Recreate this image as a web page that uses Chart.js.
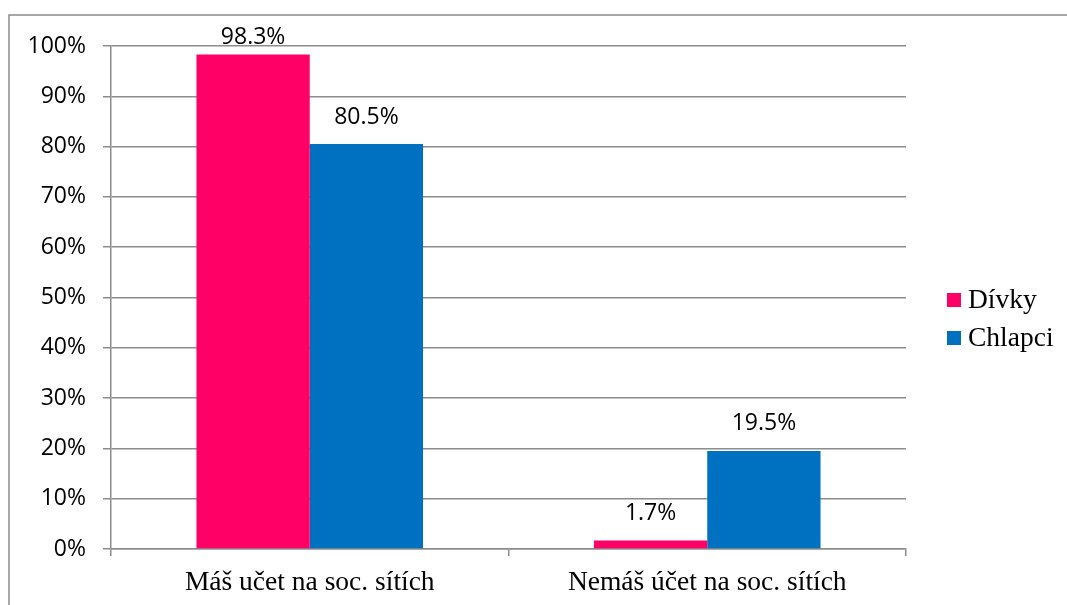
<!DOCTYPE html>
<html><head><meta charset="utf-8">
<script src="https://cdn.jsdelivr.net/npm/chart.js@4/dist/chart.umd.min.js"></script>
<style>html,body{margin:0;padding:0;background:#fff}#wrap{width:1067px;height:605px}</style>
</head><body><div id="wrap"><canvas id="c" width="1067" height="605"></canvas></div>
<script>
const categories = ['Máš učet na soc. sítích', 'Nemáš účet na soc. sítích'];
const seriesNames = ['Dívky', 'Chlapci'];
const divky = [98.3, 1.7];
const chlapci = [80.5, 19.5];
const yTickLabels = ['0%','10%','20%','30%','40%','50%','60%','70%','80%','90%','100%'];
const colors = ['#FF0066', '#0070C0'];

const GRID = '#8c8c8c';
const SANS = "'Open Sans', 'Liberation Sans', sans-serif";
const SERIF = "'Liberation Serif', 'DejaVu Serif', serif";

const framePlugin = {
  id: 'frame',
  beforeDraw(chart) {
    const ctx = chart.ctx;
    ctx.save();
    ctx.fillStyle = '#fff';
    ctx.fillRect(0, 0, chart.width, chart.height);
    ctx.strokeStyle = '#8c8c8c';
    ctx.lineWidth = 1.5;
    ctx.strokeRect(9, 15, chart.width + 20, chart.height + 20);
    ctx.restore();
  }
};

const labelPlugin = {
  id: 'valueLabels',
  afterDatasetsDraw(chart) {
    const ctx = chart.ctx;
    ctx.save();
    ctx.font = '23px ' + SANS;
    ctx.fillStyle = '#000';
    ctx.textAlign = 'center';
    ctx.textBaseline = 'middle';
    chart.data.datasets.forEach((ds, di) => {
      chart.getDatasetMeta(di).data.forEach((bar, i) => {
        const y = Math.max(bar.y - 27, chart.chartArea.top - 9);
        ctx.fillText(ds.data[i].toFixed(1) + '%', bar.x, y);
      });
    });
    ctx.restore();
  }
};

const legendPlugin = {
  id: 'customLegend',
  afterDraw(chart) {
    const ctx = chart.ctx;
    ctx.save();
    ctx.font = '27.5px ' + SERIF;
    ctx.textBaseline = 'alphabetic';
    ctx.textAlign = 'left';
    chart.data.datasets.forEach((ds, i) => {
      const cy = 300 + i * 38;
      ctx.fillStyle = ds.backgroundColor;
      ctx.fillRect(947, cy - 7, 14, 14);
      ctx.fillStyle = '#000';
      ctx.fillText(ds.label, 968, cy + 8);
    });
    ctx.restore();
  }
};

new Chart(document.getElementById('c'), {
  type: 'bar',
  data: {
    labels: categories,
    datasets: [
      { label: seriesNames[0], data: divky, backgroundColor: colors[0], borderWidth: 0 },
      { label: seriesNames[1], data: chlapci, backgroundColor: colors[1], borderWidth: 0 }
    ]
  },
  options: {
    responsive: false,
    animation: false,
    devicePixelRatio: 1,
    categoryPercentage: 0.57,
    barPercentage: 1,
    layout: { padding: { left: 0, right: 161, top: 46, bottom: 0 } },
    plugins: { legend: { display: false }, tooltip: { enabled: false } },
    scales: {
      x: {
        afterFit(s) { s.height = 56; },
        grid: { offset: true, drawOnChartArea: false, drawTicks: true, tickLength: 7, color: GRID, lineWidth: 1.5 },
        border: { display: true, color: GRID, width: 1.5 },
        ticks: { color: '#000', font: { family: SERIF, size: 27.5 }, padding: 10, maxRotation: 0 }
      },
      y: {
        min: 0, max: 100,
        afterFit(s) { s.width = 111; },
        grid: { color: GRID, lineWidth: 1.5, tickLength: 8 },
        border: { display: true, color: GRID, width: 1.5 },
        ticks: {
          stepSize: 10, color: '#000', font: { family: SANS, size: 23 }, padding: 17,
          callback: (v, i) => yTickLabels[i]
        }
      }
    }
  },
  plugins: [framePlugin, labelPlugin, legendPlugin]
});
</script>
</body></html>
